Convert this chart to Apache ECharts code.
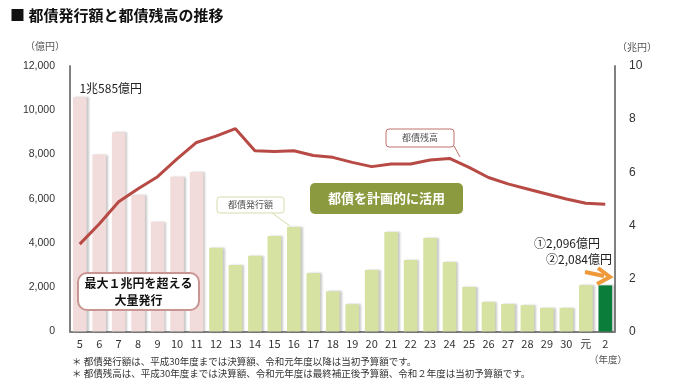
<!DOCTYPE html>
<html><head><meta charset="utf-8">
<script src="https://cdn.jsdelivr.net/npm/echarts@6/dist/echarts.min.js"></script>
<style>html,body{margin:0;padding:0;background:#fff;}#c{width:687px;height:391px;}</style>
</head><body><div id="c"></div>
<script>
var categories = ['5','6','7','8','9','10','11','12','13','14','15','16','17','18','19','20','21','22','23','24','25','26','27','28','29','30','元','2'];
var issueAmount = [10585,8000,9000,6170,4960,7000,7210,3780,3010,3420,4320,4720,2640,1810,1230,2780,4500,3230,4230,3140,2010,1340,1240,1190,1070,1070,2096,2084];
var outstanding = [3.29,4.05,4.89,5.38,5.83,6.50,7.12,7.36,7.64,6.81,6.78,6.81,6.63,6.56,6.37,6.21,6.31,6.31,6.46,6.52,6.18,5.80,5.56,5.37,5.18,4.99,4.83,4.79];
var leftTicks = [0,2000,4000,6000,8000,10000,12000];
var rightTicks = [0,2,4,6,8,10];

var FONT = '"Noto Sans CJK JP","Noto Sans",sans-serif';
var PINK = '#f2dcdb', LGREEN = '#d5e2a1', DGREEN = '#0b7d3b', LINEC = '#b84a45';

var barData = issueAmount.map(function(v,i){
  var c = i < 7 ? PINK : (i === issueAmount.length-1 ? DGREEN : LGREEN);
  var item = {value:v, itemStyle:{color:c}};
  if (i === 0) item.label = {show:true, position:'top', distance:3, offset:[31,0], formatter:'1兆585億円', fontSize:12, color:'#222', fontFamily:FONT};
  return item;
});
var lineData = outstanding.map(function(v,i){
  var item = {value:v};
  if (i === 8) item.label = {show:true, position:'top', distance:4, offset:[0,-2], formatter:'7兆6,384億円', fontSize:12, color:'#222', fontFamily:FONT};
  if (i === outstanding.length-1) item.label = {show:true, position:'top', distance:4, offset:[-39,-22], formatter:'②4兆7,875億円', fontSize:12, color:'#222', fontFamily:FONT};
  return item;
});

var chart = echarts.init(document.getElementById('c'));
chart.setOption({
  animation:false,
  textStyle:{fontFamily:FONT},
  grid:{left:70, right:72, top:66, bottom:59.5},
  xAxis:{type:'category', data:categories,
    axisLine:{show:true, lineStyle:{color:'#808080', width:2}},
    axisTick:{show:false},
    axisLabel:{color:'#333', fontSize:11, margin:7, fontFamily:FONT, interval:0}},
  yAxis:[
    {type:'value', min:0, max:12000, interval:2000,
     axisLine:{show:true, lineStyle:{color:'#808080', width:2}}, axisTick:{show:false},
     splitLine:{show:false},
     axisLabel:{color:'#333', fontSize:10.5, margin:15, fontFamily:'"Liberation Sans",sans-serif',
       formatter:function(v){return leftTicks.indexOf(v)>=0 ? v.toLocaleString('en-US') : '';}}},
    {type:'value', min:0, max:10, interval:2, position:'right',
     axisLine:{show:true, lineStyle:{color:'#808080', width:2}}, axisTick:{show:false},
     splitLine:{show:false},
     axisLabel:{color:'#333', fontSize:12, margin:14, fontFamily:'"Liberation Sans",sans-serif',
       formatter:function(v){return rightTicks.indexOf(v)>=0 ? String(v) : '';}}}
  ],
  series:[
    {type:'bar', name:'都債発行額', data:barData, barCategoryGap:'30%', yAxisIndex:0,
     itemStyle:{shadowColor:'rgba(0,0,0,0.22)', shadowOffsetX:2, shadowOffsetY:0, shadowBlur:2},
     z:2},
    {type:'line', name:'都債残高', data:lineData, yAxisIndex:1, symbol:'none',
     lineStyle:{color:LINEC, width:3}, z:3}
  ],
  graphic:[
    {type:'text', left:10, top:8, style:{text:'■ 都債発行額と都債残高の推移', font:'bold 15px '+FONT, fill:'#111'}},
    {type:'text', left:25, top:41, style:{text:'（億円）', font:'10px '+FONT, fill:'#555'}},
    {type:'text', left:617, top:42, style:{text:'（兆円）', font:'10px '+FONT, fill:'#555'}},
    {type:'text', left:589, top:355, style:{text:'（年度）', font:'9.5px '+FONT, fill:'#555'}},
    {type:'text', left:72, top:357, style:{text:'＊ 都債発行額は、平成30年度までは決算額、令和元年度以降は当初予算額です。', font:'9.5px '+FONT, fill:'#333'}},
    {type:'text', left:72, top:369, style:{text:'＊ 都債残高は、平成30年度までは決算額、令和元年度は最終補正後予算額、令和２年度は当初予算額です。', font:'9.5px '+FONT, fill:'#333'}},
    // big box
    {type:'rect', shape:{x:78, y:273, width:121, height:37, r:9}, style:{fill:'#fff', stroke:'#c99593', lineWidth:2}, z:10},
    {type:'text', x:138.5, y:291.5, style:{text:'最大１兆円を超える\n大量発行', font:'bold 12px '+FONT, fill:'#111', align:'center', verticalAlign:'middle', lineHeight:17}, z:11},
    // olive box
    {type:'rect', shape:{x:310, y:183, width:153, height:31, r:5}, style:{fill:'#8b9a3f'}, z:10},
    {type:'text', x:386.5, y:198.5, style:{text:'都債を計画的に活用', font:'bold 13px '+FONT, fill:'#fff', align:'center', verticalAlign:'middle'}, z:11},
    // callout 都債発行額
    {type:'line', shape:{x1:272, y1:213, x2:290, y2:226}, style:{stroke:'#cfdca6', lineWidth:1}, z:9},
    {type:'rect', shape:{x:217, y:197, width:67, height:16, r:3}, style:{fill:'#fff', stroke:'#d3dfae', lineWidth:1}, z:10},
    {type:'text', x:250.5, y:205, style:{text:'都債発行額', font:'9px '+FONT, fill:'#555', align:'center', verticalAlign:'middle'}, z:11},
    // callout 都債残高
    {type:'line', shape:{x1:454, y1:146, x2:460, y2:157}, style:{stroke:'#c0706c', lineWidth:1}, z:9},
    {type:'rect', shape:{x:386, y:129, width:68, height:18, r:3}, style:{fill:'#fff', stroke:'#c0706c', lineWidth:1}, z:10},
    {type:'text', x:420, y:138, style:{text:'都債残高', font:'9px '+FONT, fill:'#555', align:'center', verticalAlign:'middle'}, z:11},
    // last bar labels
    {type:'text', x:600, y:243, style:{text:'①2,096億円', font:'12px '+FONT, fill:'#222', align:'right', verticalAlign:'middle'}, z:11},
    {type:'text', x:612, y:259, style:{text:'②2,084億円', font:'12px '+FONT, fill:'#222', align:'right', verticalAlign:'middle'}, z:11},
    // orange arrow
    {type:'polyline', shape:{points:[[585,272],[604,276]]}, style:{stroke:'#ef9a3a', lineWidth:4}, z:11},
    {type:'polyline', shape:{points:[[598,268],[610,277],[597,284]]}, style:{stroke:'#ef9a3a', lineWidth:4, fill:null, lineJoin:'miter'}, z:11}
  ]
});
</script>
</body></html>
